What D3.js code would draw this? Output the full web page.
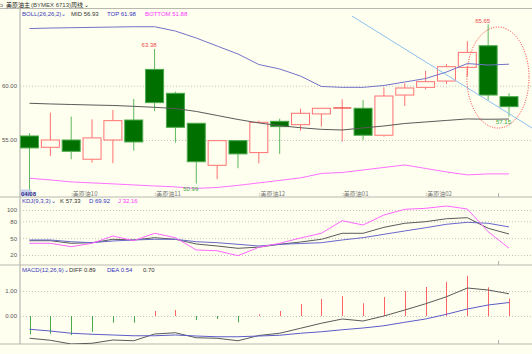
<!DOCTYPE html>
<html>
<head>
<meta charset="utf-8">
<script src="https://cdnjs.cloudflare.com/ajax/libs/d3/7.8.5/d3.min.js"></script>
<style>
    body { margin: 0; background: #fffff0; }
    svg { display: block; }
    text { font-family: "Liberation Sans", "Noto Sans CJK SC", sans-serif; font-size: 6px; }
    .cjk { font-family: "Noto Sans CJK SC", sans-serif; }
</style>
</head>
<body>
<script>
    // weekly candles, 24 bars
    var open  = [55.37, 54.33, 55.00, 53.23, 55.00, 56.84, 61.50, 59.30, 56.54, 52.67, 54.94, 53.84,
                 56.72, 56.41, 57.40, 57.90, 57.92, 55.44, 59.14, 59.85, 60.43, 61.69, 63.68, 58.99];
    var high  = [55.62, 57.52, 57.15, 56.90, 57.76, 58.78, 63.38, 59.45, 56.54, 54.94, 54.94, 56.78,
                 56.96, 57.88, 57.92, 58.75, 58.68, 59.85, 60.22, 61.38, 62.00, 64.11, 65.65, 59.30];
    var low   = [49.80, 53.53, 53.23, 52.92, 52.86, 54.02, 57.67, 54.76, 50.99, 51.39, 52.40, 52.86,
                 53.72, 55.86, 56.23, 54.85, 55.00, 55.31, 58.13, 59.67, 60.16, 60.83, 58.68, 57.15];
    var close = [54.27, 55.00, 53.96, 55.19, 56.78, 54.82, 58.44, 56.17, 53.00, 54.94, 53.72, 56.63,
                 56.23, 57.46, 57.92, 57.95, 55.44, 59.05, 59.79, 60.37, 61.75, 63.07, 59.14, 58.07];

    var bollTop = [65.26, 65.31, 65.34, 65.37, 65.40, 65.43, 65.43, 65.03, 64.39, 63.65, 62.92, 61.95,
                   61.54, 60.89, 59.93, 59.85, 59.85, 60.02, 60.34, 60.66, 61.26, 62.04, 61.90, 61.98];
    var bollMid = [58.38, 58.32, 58.27, 58.22, 58.18, 58.10, 58.01, 57.90, 57.63, 57.26, 56.89, 56.57,
                   56.32, 56.13, 55.98, 55.92, 56.11, 56.29, 56.52, 56.66, 56.80, 56.94, 56.91, 56.93];
    var bollBot = [51.48, 51.32, 51.14, 51.05, 50.96, 50.86, 50.77, 50.68, 50.54, 50.63, 50.82, 51.05,
                   51.28, 51.51, 51.92, 52.01, 52.24, 52.47, 52.70, 52.38, 52.06, 51.79, 51.88, 51.88];

    var kdjK = [45.4, 45.4, 40.8, 41.9, 47.9, 46.7, 50.8, 47.9, 39.6, 36.0, 31.9, 34.0,
                39.0, 43.1, 47.9, 58.6, 58.6, 69.2, 76.4, 79.2, 84.5, 86.3, 67.5, 57.33];
    var kdjD = [46.7, 46.7, 43.6, 41.9, 44.9, 46.7, 47.9, 47.9, 43.6, 41.9, 39.0, 36.0,
                39.0, 40.4, 41.9, 46.7, 50.8, 56.8, 62.7, 68.5, 74.6, 78.1, 76.4, 69.92];
    var kdjJ = [40.8, 40.8, 34.8, 40.8, 53.8, 45.4, 58.6, 50.8, 28.9, 27.6, 18.8, 33.7,
                40.8, 50.2, 58.6, 81.0, 73.3, 91.1, 101.2, 103.0, 107.1, 101.8, 61.4, 32.16];

    var macdDiff = [-0.89, -0.97, -1.12, -1.09, -0.96, -0.99, -0.72, -0.67, -0.87, -0.89, -0.99, -0.78,
                    -0.69, -0.49, -0.29, -0.12, -0.20, 0.00, 0.24, 0.49, 0.77, 1.12, 1.04, 0.89];
    var macdDea  = [-0.53, -0.60, -0.69, -0.73, -0.76, -0.79, -0.79, -0.76, -0.80, -0.83, -0.83, -0.80,
                    -0.77, -0.69, -0.63, -0.55, -0.48, -0.39, -0.25, -0.12, 0.07, 0.28, 0.44, 0.54];
    var macdHist = [-0.73, -0.71, -0.76, -0.63, -0.27, -0.27, 0.20, 0.24, -0.16, -0.12, -0.25, 0.07,
                    0.20, 0.48, 0.68, 0.80, 0.51, 0.76, 1.00, 1.16, 1.37, 1.61, 1.15, 0.70];

    var monthIdx = [2, 6, 11, 15, 19];
    var monthLabels = ["美原油10", "美原油11", "美原油12", "美原油01", "美原油02"];
    var markIdx = 22.5;

    var mainTicks = [55, 60];
    var kdjTicks = [20, 50, 80, 100];
    var macdTicks = [0, 1];

    // drawn objects (index / price space)
    var trendLine = [{ i: 15.47, p: 66.41 }, { i: 24.1, p: 56.11 }];
    var ellipse = { i: 22.47, p: 60.75, di: 1.49, dp: 4.65 };

    var width = 532, height = 354;
    var left = 20;

    var svg = d3.select("body").append("svg")
        .attr("width", width)
        .attr("height", height);

    svg.append("rect").attr("width", width).attr("height", height).attr("fill", "#fffff0");

    var x = d3.scaleLinear().domain([0, 23]).range([29.5, 509]);
    var yMain = d3.scaleLinear().domain([55, 60]).range([140, 85.7]);
    var yKdj = d3.scaleLinear().domain([20, 100]).range([255, 210]);
    var yMacd = d3.scaleLinear().domain([0, 1]).range([316, 291]);

    var defs = svg.append("defs");
    function clip(id, y0, y1) {
        defs.append("clipPath").attr("id", id).append("rect")
            .attr("x", left).attr("y", y0).attr("width", width - left).attr("height", y1 - y0);
    }
    clip("cMain", 9, 196);
    clip("cKdj", 198, 264);
    clip("cMacd", 266, 344);

    function grid(scale, ticks, fmt) {
        var g = svg.append("g")
            .attr("transform", "translate(" + left + ",0)")
            .call(d3.axisLeft(scale).tickValues(ticks).tickFormat(fmt)
                .tickSize(-(width - left)).tickPadding(3));
        g.select(".domain").remove();
        g.selectAll("line").attr("stroke", "#c4c4b8").attr("stroke-dasharray", "1,2");
        g.selectAll("text").attr("fill", "#555").attr("font-family", "Liberation Sans").attr("font-size", 6);
    }
    grid(yMain, mainTicks, d3.format(".2f"));
    grid(yKdj, kdjTicks, d3.format("d"));
    grid(yMacd, macdTicks, d3.format(".2f"));

    // frame
    var frame = svg.append("g").attr("stroke", "#b8b8b0").attr("stroke-width", 1.2);
    [8.5, 197, 265, 344].forEach(function (yy) {
        frame.append("line").attr("x1", 0).attr("x2", width).attr("y1", yy).attr("y2", yy);
    });
    frame.append("line").attr("x1", left).attr("x2", left).attr("y1", 8.5).attr("y2", 344);
    [197, 265, 344].forEach(function (yy) {
        frame.append("line").attr("x1", x(markIdx)).attr("x2", x(markIdx))
            .attr("y1", yy - 4).attr("y2", yy).attr("stroke", "#999").attr("stroke-width", 0.8);
    });

    // ---- main panel ----
    var main = svg.append("g").attr("clip-path", "url(#cMain)");
    var bw = 18;

    function bollLine(arr, color) {
        main.append("path")
            .datum(arr)
            .attr("fill", "none")
            .attr("stroke", color)
            .attr("stroke-width", 1)
            .attr("d", d3.line().x(function (d, i) { return x(i); }).y(function (d) { return yMain(d); }));
    }

    open.forEach(function (o, i) {
        var c = close[i];
        var up = c >= o;
        var cx = x(i);
        var top = yMain(Math.max(o, c)), bot = yMain(Math.min(o, c));
        var wick = up ? "#ff7070" : "#5cb85c";
        main.append("line").attr("x1", cx).attr("x2", cx)
            .attr("y1", yMain(high[i])).attr("y2", top).attr("stroke", wick);
        main.append("line").attr("x1", cx).attr("x2", cx)
            .attr("y1", bot).attr("y2", yMain(low[i])).attr("stroke", wick);
        if (Math.abs(top - bot) < 1.5) {
            main.append("line").attr("x1", cx - bw / 2).attr("x2", cx + bw / 2)
                .attr("y1", top).attr("y2", top).attr("stroke", "#f03030").attr("stroke-width", 1.2);
        } else {
            main.append("rect")
                .attr("x", cx - bw / 2).attr("y", top)
                .attr("width", bw).attr("height", bot - top)
                .attr("fill", up ? "#fffff0" : "#007100")
                .attr("stroke", up ? "#ff7070" : "#4aa84a")
                .attr("stroke-width", 1);
        }
    });

    bollLine(bollTop, "#7272c8");
    bollLine(bollMid, "#5a5a5a");
    bollLine(bollBot, "#ff70ff");

    main.append("line")
        .attr("x1", x(trendLine[0].i)).attr("y1", yMain(trendLine[0].p))
        .attr("x2", x(trendLine[1].i)).attr("y2", yMain(trendLine[1].p))
        .attr("stroke", "#8cc0f0").attr("stroke-width", 1);

    main.append("ellipse")
        .attr("cx", x(ellipse.i)).attr("cy", yMain(ellipse.p))
        .attr("rx", x(ellipse.i + ellipse.di) - x(ellipse.i))
        .attr("ry", yMain(ellipse.p - ellipse.dp) - yMain(ellipse.p))
        .attr("fill", "none").attr("stroke", "#ff3030").attr("stroke-width", 1)
        .attr("stroke-dasharray", "1,1.5");

    // high / low marks
    [6, 22].forEach(function (i) {
        main.append("text").attr("x", x(i) - 5.5).attr("y", yMain(high[i]) - 1.5)
            .attr("text-anchor", "middle").attr("font-size", 6.5).attr("fill", "#f04848").text(high[i].toFixed(2));
    });
    [8, 23].forEach(function (i) {
        main.append("text").attr("x", x(i) - 5.5).attr("y", yMain(low[i]) + 7)
            .attr("text-anchor", "middle").attr("font-size", 6.5).attr("fill", "#3aa83a").text(low[i].toFixed(2));
    });

    // month labels
    monthIdx.forEach(function (m, k) {
        svg.append("text").attr("class", "cjk").attr("x", x(m)).attr("y", 195.5)
            .attr("fill", "#777").text(":" + monthLabels[k]);
    });
    svg.append("rect").attr("x", left + 0.5).attr("y", 189.5).attr("width", 11).attr("height", 7)
        .attr("fill", "#c9d0ee");
    svg.append("text").attr("x", left + 1).attr("y", 195.5).attr("fill", "#2b2b88")
        .attr("font-weight", "bold").text("04/08");

    // ---- KDJ ----
    var kdj = svg.append("g").attr("clip-path", "url(#cKdj)");
    [[kdjK, "#5a5a5a"], [kdjD, "#6868cc"], [kdjJ, "#ff66ff"]].forEach(function (s) {
        kdj.append("path").datum(s[0])
            .attr("fill", "none").attr("stroke", s[1]).attr("stroke-width", 1)
            .attr("d", d3.line().x(function (d, i) { return x(i); }).y(function (d) { return yKdj(d); }));
    });

    // ---- MACD ----
    var macd = svg.append("g").attr("clip-path", "url(#cMacd)");
    macdHist.forEach(function (v, i) {
        macd.append("line")
            .attr("x1", Math.round(x(i)) + 0.5).attr("x2", Math.round(x(i)) + 0.5)
            .attr("y1", yMacd(0)).attr("y2", yMacd(v))
            .attr("stroke", v >= 0 ? "#ff6464" : "#48aa48").attr("stroke-width", 1);
    });
    [[macdDiff, "#5a5a5a"], [macdDea, "#5c5cc8"]].forEach(function (s) {
        macd.append("path").datum(s[0])
            .attr("fill", "none").attr("stroke", s[1]).attr("stroke-width", 1)
            .attr("d", d3.line().x(function (d, i) { return x(i); }).y(function (d) { return yMacd(d); }));
    });

    // ---- legends ----
    function legend(y, items) {
        items.forEach(function (it) {
            svg.append("text").attr("x", it[0]).attr("y", y).attr("fill", it[2]).text(it[1]);
        });
    }
    legend(15.5, [[22, "BOLL(26,26,2)\u2304", "#3a3ab8"], [71, "MID " + bollMid[23].toFixed(2), "#333"],
                  [107, "TOP " + bollTop[23].toFixed(2), "#3434c0"], [145, "BOTTOM " + bollBot[23].toFixed(2), "#ff33ff"]]);
    legend(203, [[22, "KDJ(9,3,3)\u2304", "#3a3ab8"], [60, "K " + kdjK[23].toFixed(2), "#333"],
                 [89, "D " + kdjD[23].toFixed(2), "#3434c0"], [118, "J " + kdjJ[23].toFixed(2), "#ff33ff"]]);
    legend(272, [[22, "MACD(12,26,9)\u2304", "#3a3ab8"], [69, "DIFF " + macdDiff[23].toFixed(2), "#333"],
                 [107, "DEA " + macdDea[23].toFixed(2), "#3434c0"], [143, macdHist[23].toFixed(2), "#333"]]);

    // title bar
    svg.append("text").attr("x", 0).attr("y", 6.5).attr("fill", "#555").text("\u0254");
    svg.append("text").attr("class", "cjk").attr("x", 6).attr("y", 6.5).attr("fill", "#222").text("美原油主");
    svg.append("text").attr("x", 31).attr("y", 6.5).attr("fill", "#444").attr("font-size", 5).text("(BYMEX 6713)");
    svg.append("text").attr("class", "cjk").attr("x", 71).attr("y", 6.5).attr("fill", "#222").text("周线 \u2304");
</script>
</body>
</html>
